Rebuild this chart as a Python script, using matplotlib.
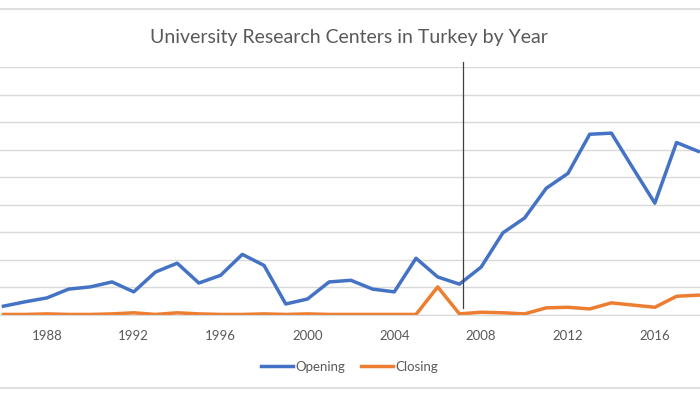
import matplotlib.pyplot as plt
import matplotlib.lines as mlines

years = list(range(1986, 2019))
opening = [1.6, 2.4, 3.1, 4.7, 5.1, 6.0, 4.2, 7.8, 9.4, 5.8, 7.2, 11.0, 9.0,
           2.0, 2.9, 6.0, 6.3, 4.7, 4.2, 10.3, 6.9, 5.6, 8.7, 14.9, 17.6,
           23.0, 25.7, 32.8, 33.0, 26.6, 20.3, 31.3, 29.7]
closing = [0.1, 0.1, 0.2, 0.1, 0.1, 0.2, 0.4, 0.1, 0.4, 0.2, 0.1, 0.1, 0.2,
           0.1, 0.2, 0.1, 0.1, 0.1, 0.1, 0.1, 5.1, 0.2, 0.5, 0.4, 0.2,
           1.3, 1.4, 1.1, 2.2, 1.8, 1.4, 3.4, 3.6]
tick_years = [1988, 1992, 1996, 2000, 2004, 2008, 2012, 2016]
marker_year = 2007.15

grey = '#595959'
plt.rcParams['font.family'] = ['Lato', 'DejaVu Sans']

fig = plt.figure(figsize=(7, 3.94), dpi=100)
ax = fig.add_axes([0, 0.2005, 1, 0.6294])

ax.plot(years, opening, color='#4472C4', lw=2.5, label='Opening', solid_joinstyle='round')
ax.plot(years, closing, color='#ED7D31', lw=2.5, label='Closing', solid_joinstyle='round')

ax.set_xlim(1985.84, 2018.08)
ax.set_ylim(0, 45)
ax.set_yticks(range(0, 46, 5))
ax.yaxis.grid(True, color='#d9d9d9', lw=1)
ax.set_axisbelow(True)
ax.tick_params(axis='y', left=False, labelleft=False)
ax.set_xticks(tick_years)
ax.tick_params(axis='x', length=0, labelsize=9.5, labelcolor=grey, pad=10.5)
for s in ['top', 'left', 'right']:
    ax.spines[s].set_visible(False)
ax.spines['bottom'].set_color('#d9d9d9')

ax.axvline(marker_year, ymin=0.028, ymax=1.02, color='#404040', lw=0.9, clip_on=False)

fig.text(0.499, 0.906, 'University Research Centers in Turkey by Year',
         ha='center', va='center', fontsize=14, color=grey)

fig.legend(loc='center', bbox_to_anchor=(0.5, 0.069), ncol=2, frameon=False,
           fontsize=9.5, labelcolor=grey, handlelength=2.4, handletextpad=0.2,
           columnspacing=1.2)

# chart frame edges
fig.add_artist(mlines.Line2D([0, 1], [0.976, 0.976], color='#d9d9d9', lw=1.2))
fig.add_artist(mlines.Line2D([0, 1], [0.016, 0.016], color='#d9d9d9', lw=1.2))

fig.savefig('out.png', dpi=100)
